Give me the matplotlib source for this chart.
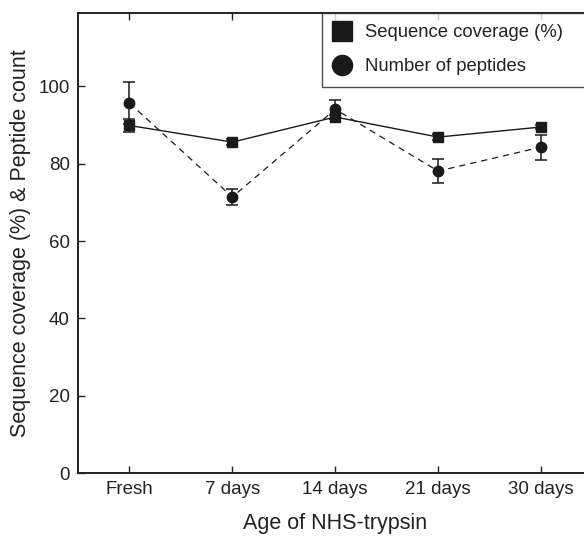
import matplotlib
matplotlib.use('Agg')
import matplotlib.pyplot as plt
import numpy as np
from matplotlib.lines import Line2D

plt.rcParams.update({
    'font.family': ['Liberation Sans', 'DejaVu Sans'],
    'font.size': 13.5,
    'text.color': '#222222',
    'axes.labelcolor': '#222222',
    'xtick.color': '#222222',
    'ytick.color': '#222222',
})

# data
categories = ['Fresh', '7 days', '14 days', '21 days', '30 days']
coverage = [89.9, 85.6, 92.1, 86.9, 89.5]
coverage_err = [1.7, 0.8, 0.6, 0.8, 0.5]
peptides = [95.7, 71.4, 94.1, 78.1, 84.3]
peptides_err = [5.4, 2.1, 2.4, 3.1, 3.2]

fig = plt.figure(figsize=(5.84, 5.36), dpi=100)
ax = fig.add_axes([78/584, 1 - 473/536, (592.5 - 78)/584, (473 - 13)/536])

x = np.arange(len(categories))
ax.errorbar(x, peptides, yerr=peptides_err, color='#1a1a1a', marker='o',
            markersize=7.5, linestyle=(0, (5, 4)), linewidth=0.9,
            elinewidth=1.1, capsize=4, capthick=1.1, zorder=3)
ax.errorbar(x, coverage, yerr=coverage_err, color='#1a1a1a', marker='s',
            markersize=7.5, linestyle='-', linewidth=1.0,
            elinewidth=1.1, capsize=4, capthick=1.1, zorder=4)

ax.set_xlim(-0.5, 4.5)
ax.set_ylim(0, 119)
ax.set_xticks(x, labels=categories)
ax.set_yticks(np.arange(0, 101, 20))
ax.tick_params(direction='in', length=5, width=1, top=True, right=False, pad=6)
for s in ax.spines.values():
    s.set_linewidth(1.4)
    s.set_color('#222222')

ax.set_xlabel('Age of NHS-trypsin', fontsize=15.5)
ax.xaxis.label.set_va('center')
ax.xaxis.set_label_coords(0.5, (473 - 524) / 460)
ax.set_ylabel('Sequence coverage (%) & Peptide count', fontsize=15.5)
ax.yaxis.label.set_va('center')
ax.yaxis.set_label_coords((21 - 78) / 514.5, 0.5)

handles = [
    Line2D([], [], marker='s', color='#1a1a1a', linestyle='none', markersize=14),
    Line2D([], [], marker='o', color='#1a1a1a', linestyle='none', markersize=14.5),
]
leg = fig.legend(handles, ['Sequence coverage (%)', 'Number of peptides'],
                 loc='upper left', mode='expand',
                 bbox_to_anchor=(322/584, 1 - 80/536, (600 - 322)/584, 67/536),
                 frameon=True, fancybox=False, borderpad=0.62, labelspacing=0.9,
                 handletextpad=0.75, handlelength=0.95, borderaxespad=0,
                 fontsize=13.3)
leg.get_frame().set_edgecolor('#222222')
leg.get_frame().set_linewidth(1.0)

fig.savefig('out.png', dpi=100)
